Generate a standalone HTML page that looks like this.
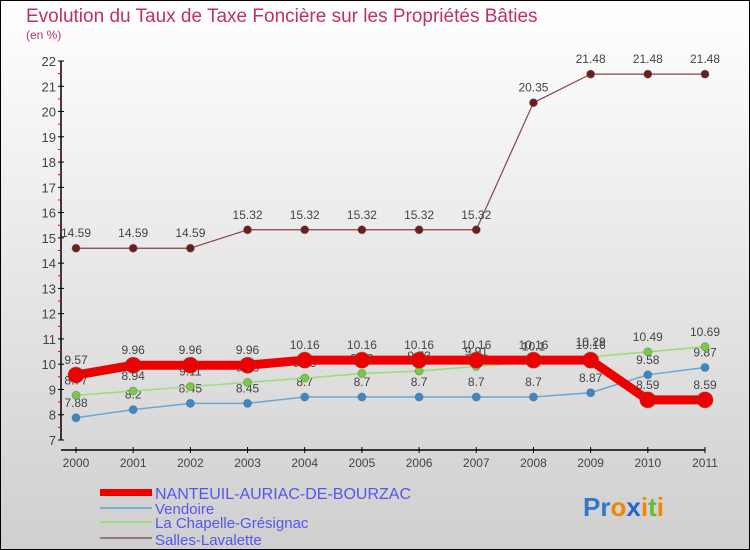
<!DOCTYPE html>
<html><head><meta charset="utf-8"><style>
body{margin:0;width:750px;height:550px;overflow:hidden}
svg{display:block;font-family:"Liberation Sans",sans-serif}
</style></head><body>
<svg id="c" width="750" height="550">
<defs><linearGradient id="bg" x1="0" y1="0" x2="0" y2="1"><stop offset="0" stop-color="#ffffff"/><stop offset="1" stop-color="#cfcfcf"/></linearGradient></defs>
<rect x="0.5" y="0.5" width="749" height="549" fill="url(#bg)" stroke="#000"/>
<text x="26" y="22" font-size="19" fill="#c03060">Evolution du Taux de Taxe Foncière sur les Propriétés Bâties</text>
<text x="26" y="39" font-size="12" fill="#c03060">(en %)</text>
<g id="axes"></g><g id="series"></g>
<g>
<rect x="100" y="489" width="52" height="7" fill="#ee0000"/>
<text x="155" y="499" font-size="16" fill="#5555ee">NANTEUIL-AURIAC-DE-BOURZAC</text>
<line x1="100" y1="508" x2="152" y2="508" stroke="#7ab0d8" stroke-width="2"/>
<text x="155" y="514" font-size="15" fill="#5555ee">Vendoire</text>
<line x1="100" y1="522" x2="152" y2="522" stroke="#99dd77" stroke-width="2"/>
<text x="155" y="528" font-size="15" fill="#5555ee">La Chapelle-Grésignac</text>
<line x1="100" y1="538" x2="152" y2="538" stroke="#997777" stroke-width="2"/>
<text x="155" y="545" font-size="15" fill="#5555ee">Salles-Lavalette</text>
</g>
<text x="583" y="516" font-size="26" font-weight="bold"><tspan fill="#3377cc">Pr</tspan><tspan fill="#ee8800">o</tspan><tspan fill="#2266cc">x</tspan><tspan fill="#ee8800">i</tspan><tspan fill="#66bb33">t</tspan><tspan fill="#ee8800">i</tspan></text>
</svg>
<script>
const years=[2000,2001,2002,2003,2004,2005,2006,2007,2008,2009,2010,2011];
const nanteuil=[9.57,9.96,9.96,9.96,10.16,10.16,10.16,10.16,10.16,10.16,8.59,8.59];
const vendoire=[7.88,8.2,8.45,8.45,8.7,8.7,8.7,8.7,8.7,8.87,9.58,9.87];
const chapelle=[8.77,8.94,9.11,9.28,9.45,9.63,9.73,9.91,10.1,10.29,10.49,10.69];
const salles=[14.59,14.59,14.59,15.32,15.32,15.32,15.32,15.32,20.35,21.48,21.48,21.48];
const yTicks=[7,8,9,10,11,12,13,14,15,16,17,18,19,20,21,22];
const NS='http://www.w3.org/2000/svg';
const X=i=>76+i*(705-76)/(years.length-1);
const Y=v=>440-(v-7)*(440-61)/15;
function mk(t,a,p){const e=document.createElementNS(NS,t);for(const k in a)e.setAttribute(k,a[k]);p.appendChild(e);return e;}
const ax=document.getElementById('axes');
let yl=mk('line',{x1:61,y1:61,x2:61,y2:440,stroke:'#000','stroke-width':1.5},ax);


yTicks.forEach(v=>{
 mk('line',{x1:58,y1:Y(v),x2:64,y2:Y(v),stroke:'#000'},ax);
 if(v<22)mk('line',{x1:58,y1:Y(v+0.5),x2:61,y2:Y(v+0.5),stroke:'#e00'},ax);
 const t=mk('text',{x:56,y:Y(v)+5,'font-size':13,fill:'#444','text-anchor':'end'},ax);t.textContent=v;
 
 
});
let xl=mk('line',{x1:61,y1:450,x2:705,y2:450,stroke:'#000','stroke-width':1.5},ax);


years.forEach((y,i)=>{
 mk('line',{x1:X(i),y1:447,x2:X(i),y2:453,stroke:'#000'},ax);
 const t=mk('text',{x:X(i),y:467,'font-size':12,fill:'#444','text-anchor':'middle'},ax);t.textContent=y;
 
 
});
const sg=document.getElementById('series');
function draw(vals,name,color,dot,w,r){
 const g=mk('g',{},sg);
 
 
 const pl=mk('polyline',{points:vals.map((v,i)=>X(i)+','+Y(v)).join(' '),fill:'none',stroke:color,'stroke-width':w,'stroke-linejoin':'round'},g);
 
 
 vals.forEach((v,i)=>{
  const c=mk('circle',{cx:X(i),cy:Y(v),r:r,fill:dot,stroke:'#555','stroke-opacity':0.4},g);
  
  
  const t=mk('text',{x:X(i),y:Y(v)-11,'font-size':12,fill:'#444','text-anchor':'middle'},g);t.textContent=v;
  
  
 });
}
draw(salles,'salles','#884444','#6b1e1e',1.2,4);
draw(vendoire,'vendoire','#6aa6d6','#3a88c8',1.5,4);
draw(chapelle,'chapelle','#99dd77','#77cc44',1.5,4);
draw(nanteuil,'nanteuil','#ee0000','#ee0000',9,8);
</script>
</body></html>
